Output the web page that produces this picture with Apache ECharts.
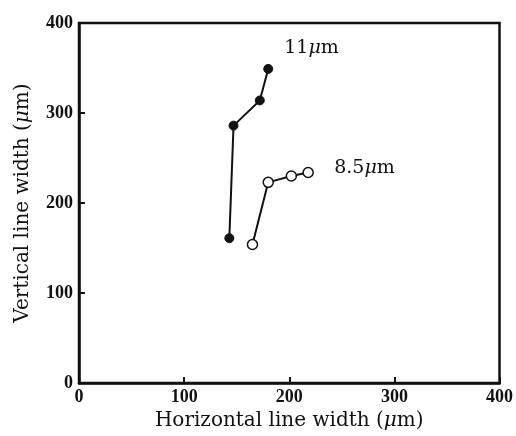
<!DOCTYPE html>
<html>
<head>
<meta charset="utf-8">
<script src="https://cdn.jsdelivr.net/npm/echarts@6/dist/echarts.min.js"></script>
<style>
  html, body { margin: 0; padding: 0; background: #fff; }
  #chart { width: 516px; height: 436px; }
</style>
</head>
<body>
<div id="chart"></div>
<script>
// horizontal / vertical line width (um)
const width11 = [143, 147, 172, 180];
const height11 = [161, 286, 314, 349];
const width85 = [165, 180, 202, 218];
const height85 = [154, 223, 230, 234];
const xTicks = [0, 100, 200, 300, 400];
const yTicks = [0, 100, 200, 300, 400];

const serif = '"Liberation Serif", "DejaVu Serif", serif';
const wide = '"DejaVu Serif", serif';

function pairs(xs, ys) {
  return xs.map((x, i) => [x, ys[i]]);
}

const chart = echarts.init(document.getElementById('chart'));

const tickLabel = {
  fontFamily: serif, fontSize: 18, fontWeight: 'bold', color: '#111'
};
const nameStyle = {
  fontFamily: wide, fontSize: 20, color: '#111',
  rich: { i: { fontFamily: wide, fontSize: 20, fontStyle: 'italic', color: '#111' } }
};
const seriesLabel = {
  fontFamily: wide, fontSize: 19, color: '#111',
  rich: { i: { fontFamily: wide, fontSize: 19, fontStyle: 'italic', color: '#111' } }
};

chart.setOption({
  animation: false,
  grid: {
    left: 79, right: 14, top: 23, bottom: 52,
    show: true, borderColor: '#111', borderWidth: 2.5
  },
  xAxis: {
    type: 'value', min: 0, max: 400, interval: 100,
    name: 'Horizontal line width ({i|μ}m)',
    nameLocation: 'middle', nameGap: 20,
    nameTextStyle: nameStyle,
    axisLine: { show: true, lineStyle: { color: '#111', width: 2.5 } },
    axisTick: { show: true, inside: true, length: 6, lineStyle: { color: '#111', width: 2 } },
    axisLabel: Object.assign({ margin: 5, formatter: v => xTicks.includes(v) ? String(v) : '' }, tickLabel),
    splitLine: { show: false }
  },
  yAxis: {
    type: 'value', min: 0, max: 400, interval: 100,
    name: 'Vertical line width ({i|μ}m)',
    nameLocation: 'middle', nameGap: 46,
    nameTextStyle: nameStyle,
    axisLine: { show: true, lineStyle: { color: '#111', width: 2.5 } },
    axisTick: { show: true, inside: true, length: 6, lineStyle: { color: '#111', width: 2 } },
    axisLabel: Object.assign({ margin: 6, formatter: v => yTicks.includes(v) ? String(v) : '' }, tickLabel),
    splitLine: { show: false }
  },
  series: [
    {
      name: '11um',
      type: 'line',
      data: pairs(width11, height11),
      symbol: 'circle',
      symbolSize: 9,
      lineStyle: { color: '#111', width: 2 },
      itemStyle: { color: '#111', borderColor: '#111', borderWidth: 1 },
      endLabel: Object.assign({ show: true, formatter: '11{i|μ}m', offset: [8, -21] }, seriesLabel)
    },
    {
      name: '8.5um',
      type: 'line',
      data: pairs(width85, height85),
      symbol: 'circle',
      symbolSize: 10,
      lineStyle: { color: '#111', width: 2 },
      itemStyle: { color: '#fff', borderColor: '#111', borderWidth: 1.5 },
      endLabel: Object.assign({ show: true, formatter: '8.5{i|μ}m', offset: [18, -4] }, seriesLabel)
    }
  ]
});
</script>
</body>
</html>
